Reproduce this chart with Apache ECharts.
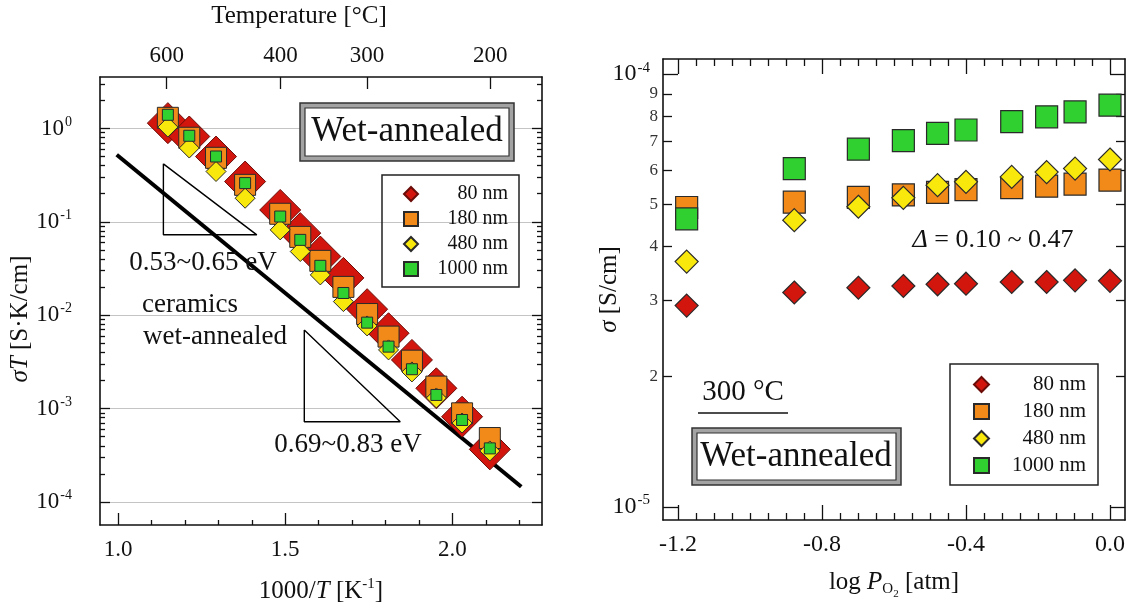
<!DOCTYPE html>
<html><head><meta charset="utf-8">
<script src="https://cdn.jsdelivr.net/npm/echarts@6/dist/echarts.min.js"></script>
<style>html,body{margin:0;padding:0;background:#fff}#c{width:1126px;height:607px}</style>
</head><body><div id="c"></div>
<script>
// ---------------- DATA ----------------
const seriesNames = ['80 nm', '180 nm', '480 nm', '1000 nm'];

// Left panel: sigma*T vs 1000/T
const invT = [1.149, 1.213, 1.293, 1.380, 1.485, 1.545, 1.605, 1.674, 1.745, 1.809, 1.879, 1.952, 2.029, 2.112];
const sigmaT_80   = [1.14, 0.82, 0.50, 0.270, 0.134, 0.0757, 0.0425, 0.0251, 0.0116, 0.00641, 0.00332, 0.00165, 0.000819, 0.000366];
const sigmaT_180  = [1.30, 0.795, 0.485, 0.249, 0.122, 0.069, 0.0382, 0.0201, 0.0103, 0.0059, 0.00326, 0.00172, 0.00089, 0.000484];
const sigmaT_480  = [1.035, 0.617, 0.346, 0.179, 0.082, 0.0481, 0.0270, 0.0140, 0.00768, 0.00425, 0.00247, 0.00130, 0.000701, 0.000352];
const sigmaT_1000 = [1.40, 0.835, 0.501, 0.260, 0.114, 0.0641, 0.0338, 0.0173, 0.00833, 0.00461, 0.00264, 0.00140, 0.000755, 0.000375];

const ceramicsInvT = [0.996, 2.206];
const ceramicsSigmaT = [0.523, 1.455e-4];
const tri1InvT = [1.1356, 1.1356, 1.415, 1.1356];
const tri1SigmaT = [0.418, 0.0726, 0.0726, 0.418];
const tri2InvT = [1.557, 1.557, 1.844, 1.557];
const tri2SigmaT = [0.00696, 0.000724, 0.000724, 0.00696];

const invTTickLabels = [1.0, 1.5, 2.0];
const invTMinorTicks = [1.1, 1.2, 1.3, 1.4, 1.6, 1.7, 1.8, 1.9, 2.1, 2.2];
const tempTickLabelsC = [600, 400, 300, 200];
const sigmaTDecades = [-4, -3, -2, -1, 0];

// Right panel: sigma vs log PO2 at 300 C
const logPO2 = [-1.176, -0.877, -0.699, -0.574, -0.479, -0.400, -0.273, -0.176, -0.097, 0.0];
const sigma_80   = [2.92e-5, 3.13e-5, 3.21e-5, 3.24e-5, 3.27e-5, 3.28e-5, 3.31e-5, 3.31e-5, 3.34e-5, 3.33e-5];
const sigma_180  = [4.92e-5, 5.06e-5, 5.19e-5, 5.26e-5, 5.33e-5, 5.41e-5, 5.47e-5, 5.51e-5, 5.57e-5, 5.69e-5];
const sigma_480  = [3.69e-5, 4.60e-5, 4.94e-5, 5.18e-5, 5.54e-5, 5.64e-5, 5.79e-5, 5.94e-5, 6.05e-5, 6.35e-5];
const sigma_1000 = [4.63e-5, 6.05e-5, 6.71e-5, 7.02e-5, 7.30e-5, 7.43e-5, 7.77e-5, 7.97e-5, 8.18e-5, 8.48e-5];

const logPTickLabels = [-1.2, -0.8, -0.4, 0.0];
const sigmaDecades = [-5, -4];
const sigmaMinorLabels = [2, 3, 4, 5, 6, 7, 8, 9];

// ---------------- STYLE ----------------
const FONT = 'Liberation Serif';
const INK = '#111';
const COL = { '80 nm': '#d2160e', '180 nm': '#f28a1a', '480 nm': '#f9e80c', '1000 nm': '#2fd02f' };
const SYM = { '80 nm': 'diamond', '180 nm': 'rect', '480 nm': 'diamond', '1000 nm': 'rect' };
const L_SIZE = { '80 nm': 41, '180 nm': 21, '480 nm': 20, '1000 nm': 11 };
const R_SIZE = { '80 nm': 23, '180 nm': 22, '480 nm': 23, '1000 nm': 22 };

const L_X = [0.946, 2.268];
const L_YE = [-4.2465, 0.551];
const R_X = [-1.2417, 0.0417];
const R_YE = [-5.030, -3.965];

const zip = (a, b) => a.map((v, i) => [v, b[i]]);

function blank(extra) {
  return Object.assign({
    type: 'value', silent: true,
    axisLine: { show: false, onZero: false },
    axisTick: { show: false }, axisLabel: { show: false },
    splitLine: { show: false }, minorTick: { show: false }, minorSplitLine: { show: false }
  }, extra);
}
function ticks(vals, len) {
  return { show: true, inside: true, length: len, customValues: vals, lineStyle: { color: INK, width: 1.3 } };
}
const frame = { show: true, onZero: false, lineStyle: { color: INK, width: 1.6 } };
const supRich = (size, sup) => ({
  b: { fontSize: size, fontFamily: FONT, color: INK },
  s: { fontSize: sup, fontFamily: FONT, color: INK, padding: [0, 0, Math.round(size * 0.55), 1] }
});

const lMinorY = [];
sigmaTDecades.forEach(n => { for (let k = 2; k <= 9; k++) { const e = n + Math.log10(k); if (e <= L_YE[1]) lMinorY.push(e); } });
const rMinorY = sigmaMinorLabels.map(k => -5 + Math.log10(k));
const rMinorX = [];
for (let i = 0; i <= 24; i++) { const v = +(-1.2 + i * 0.05).toFixed(2); if (!logPTickLabels.some(t => Math.abs(t - v) < 1e-9)) rMinorX.push(v); }
const tempPos = tempTickLabelsC.map(c => 1000 / (c + 273.15));

const xAxis = [
  // 0 left bottom
  blank({ gridIndex: 0, position: 'bottom', min: L_X[0], max: L_X[1], axisLine: frame,
    axisTick: ticks(invTTickLabels, 12),
    axisLabel: { show: true, customValues: invTTickLabels, margin: 13, fontSize: 23, fontFamily: FONT, color: INK, formatter: v => v.toFixed(1) },
    name: '1000/{i|T} [K{s|-1}]', nameLocation: 'middle', nameGap: 52,
    nameTextStyle: { fontSize: 25, fontFamily: FONT, color: INK, rich: {
      i: { fontSize: 25, fontFamily: FONT, fontStyle: 'italic', color: INK },
      s: { fontSize: 15, fontFamily: FONT, color: INK, padding: [0, 0, 14, 0] } } } }),
  // 1 left bottom minor
  blank({ gridIndex: 0, position: 'bottom', min: L_X[0], max: L_X[1], axisTick: ticks(invTMinorTicks, 5) }),
  // 2 left top temperature
  blank({ gridIndex: 0, position: 'top', min: L_X[0], max: L_X[1], axisLine: frame,
    axisTick: ticks(tempPos, 12),
    axisLabel: { show: true, customValues: tempPos, margin: 10, fontSize: 23, fontFamily: FONT, color: INK,
      formatter: v => String(Math.round(1000 / v - 273.15)) },
    name: 'Temperature [°C]', nameLocation: 'middle', nameGap: 48,
    nameTextStyle: { fontSize: 25, fontFamily: FONT, color: INK, padding: [0, 44, 0, 0] } }),
  // 3 right bottom
  blank({ gridIndex: 1, position: 'bottom', min: R_X[0], max: R_X[1], axisLine: frame,
    axisTick: ticks(logPTickLabels, 15),
    axisLabel: { show: true, customValues: logPTickLabels, margin: 13, fontSize: 24, fontFamily: FONT, color: INK, formatter: v => v.toFixed(1) },
    name: 'log {i|P}{o|O}{t|2} [atm]', nameLocation: 'middle', nameGap: 45,
    nameTextStyle: { fontSize: 25, fontFamily: FONT, color: INK, rich: {
      i: { fontSize: 25, fontFamily: FONT, fontStyle: 'italic', color: INK },
      o: { fontSize: 15, fontFamily: FONT, color: INK, padding: [14, 0, 0, 0] },
      t: { fontSize: 11, fontFamily: FONT, color: INK, padding: [24, 0, 0, 0] } } } }),
  // 4 right bottom minor
  blank({ gridIndex: 1, position: 'bottom', min: R_X[0], max: R_X[1], axisTick: ticks(rMinorX, 7) }),
  // 5 right top major
  blank({ gridIndex: 1, position: 'top', min: R_X[0], max: R_X[1], axisLine: frame, axisTick: ticks(logPTickLabels, 15) }),
  // 6 right top minor
  blank({ gridIndex: 1, position: 'top', min: R_X[0], max: R_X[1], axisTick: ticks(rMinorX, 7) })
];

const yAxis = [
  // 0 left data log axis
  { type: 'log', logBase: 10, gridIndex: 0, position: 'left', min: Math.pow(10, L_YE[0]), max: Math.pow(10, L_YE[1]),
    axisLine: frame, axisTick: { show: false }, axisLabel: { show: false }, splitLine: { show: false }, minorTick: { show: false },
    name: '{i|σT} [S·K/cm]', nameLocation: 'middle', nameGap: 67, nameRotate: 90,
    nameTextStyle: { fontSize: 25, fontFamily: FONT, color: INK, padding: [0, 36, 0, 0],
      rich: { i: { fontSize: 25, fontFamily: FONT, fontStyle: 'italic', color: INK } } } },
  // 1 left major ticks/labels/grid
  blank({ gridIndex: 0, position: 'left', min: L_YE[0], max: L_YE[1], axisTick: ticks(sigmaTDecades, 10),
    axisLabel: { show: true, customValues: sigmaTDecades, margin: 28, formatter: v => '{b|10}{s|' + Math.round(v) + '}', rich: supRich(23, 14) },
    splitLine: { show: true, lineStyle: { color: '#c4c4c4', width: 1 } } }),
  // 2 left minor
  blank({ gridIndex: 0, position: 'left', min: L_YE[0], max: L_YE[1], axisTick: ticks(lMinorY, 5) }),
  // 3 left panel right side major
  blank({ gridIndex: 0, position: 'right', min: L_YE[0], max: L_YE[1], axisLine: frame, axisTick: ticks(sigmaTDecades, 10) }),
  // 4 left panel right side minor
  blank({ gridIndex: 0, position: 'right', min: L_YE[0], max: L_YE[1], axisTick: ticks(lMinorY, 5) }),
  // 5 right data log axis
  { type: 'log', logBase: 10, gridIndex: 1, position: 'left', min: Math.pow(10, R_YE[0]), max: Math.pow(10, R_YE[1]),
    axisLine: frame, axisTick: { show: false }, axisLabel: { show: false }, splitLine: { show: false }, minorTick: { show: false },
    name: '{i|σ} [S/cm]', nameLocation: 'middle', nameGap: 41, nameRotate: 90,
    nameTextStyle: { fontSize: 25, fontFamily: FONT, color: INK, rich: { i: { fontSize: 25, fontFamily: FONT, fontStyle: 'italic', color: INK } } } },
  // 6 right major
  blank({ gridIndex: 1, position: 'left', min: R_YE[0], max: R_YE[1], axisTick: ticks(sigmaDecades, 15),
    axisLabel: { show: true, customValues: sigmaDecades, margin: 13, formatter: v => '{b|10}{s|' + Math.round(v) + '}', rich: supRich(24, 15) } }),
  // 7 right minor + labels
  blank({ gridIndex: 1, position: 'left', min: R_YE[0], max: R_YE[1], axisTick: ticks(rMinorY, 9),
    axisLabel: { show: true, customValues: rMinorY, margin: 5, fontSize: 17, fontFamily: FONT, color: '#333',
      formatter: v => String(Math.round(Math.pow(10, v + 5))) } }),
  // 8 right panel right side major
  blank({ gridIndex: 1, position: 'right', min: R_YE[0], max: R_YE[1], axisLine: frame, axisTick: ticks(sigmaDecades, 15) }),
  // 9 right panel right side minor
  blank({ gridIndex: 1, position: 'right', min: R_YE[0], max: R_YE[1], axisTick: ticks(rMinorY, 9) })
];

function scatter(name, xs, ys, xi, yi, sizes, bw) {
  return { type: 'scatter', name, xAxisIndex: xi, yAxisIndex: yi, data: zip(xs, ys),
    symbol: SYM[name], symbolSize: sizes[name], silent: true,
    itemStyle: { color: COL[name], borderColor: name === '80 nm' && xi === 0 ? '#6a0c08' : '#2a2a2a', borderWidth: bw, opacity: 1 } };
}
function guide(xs, ys, w) {
  return { type: 'line', xAxisIndex: 0, yAxisIndex: 0, data: zip(xs, ys), symbol: 'none', silent: true,
    lineStyle: { color: '#000', width: w }, z: 1 };
}

const series = [
  guide(ceramicsInvT, ceramicsSigmaT, 4),
  guide(tri1InvT, tri1SigmaT, 1.4),
  guide(tri2InvT, tri2SigmaT, 1.4),
  scatter('80 nm', invT, sigmaT_80, 0, 0, L_SIZE, 1),
  scatter('180 nm', invT, sigmaT_180, 0, 0, L_SIZE, 1),
  scatter('480 nm', invT, sigmaT_480, 0, 0, L_SIZE, 1),
  scatter('1000 nm', invT, sigmaT_1000, 0, 0, L_SIZE, 1),
  scatter('80 nm', logPO2, sigma_80, 3, 5, R_SIZE, 1.2),
  scatter('180 nm', logPO2, sigma_180, 3, 5, R_SIZE, 1.2),
  scatter('480 nm', logPO2, sigma_480, 3, 5, R_SIZE, 1.2),
  scatter('1000 nm', logPO2, sigma_1000, 3, 5, R_SIZE, 1.2)
];

function legend(left, top, pad, icon, gap, w, fs) {
  return { left, top, orient: 'vertical', data: seriesNames, selectedMode: false, padding: pad,
    itemWidth: icon, itemHeight: icon, itemGap: gap, borderColor: '#222', borderWidth: 1.5,
    formatter: n => '{t|' + n + '}',
    textStyle: { rich: { t: { width: w, align: 'right', fontSize: fs, lineHeight: fs, fontFamily: FONT, color: INK } } } };
}

function txt(x, y, text, size, align, rich) {
  return { type: 'text', x, y, z: 20, silent: true,
    style: { text, fontSize: size, fontFamily: FONT, fill: INK, align: align || 'center', verticalAlign: 'middle', rich } };
}
function box(x, y, w, h, label, cx, cy) {
  return [
    { type: 'rect', z: 18, silent: true, shape: { x, y, width: w, height: h }, style: { fill: '#a3a3a3', stroke: '#333', lineWidth: 1.5 } },
    { type: 'rect', z: 19, silent: true, shape: { x: x + 5, y: y + 5, width: w - 10, height: h - 10 }, style: { fill: '#fff', stroke: '#333', lineWidth: 1.2 } },
    txt(cx, cy, label, 35)
  ];
}

const graphic = [].concat(
  box(300, 103, 214, 58, 'Wet-annealed', 407, 132),
  box(692, 428, 209, 57, 'Wet-annealed', 796, 457),
  [
    txt(203, 263, '0.53~0.65 eV', 27),
    txt(142, 305, 'ceramics', 27, 'left'),
    txt(143, 337, 'wet-annealed', 27, 'left'),
    txt(348, 445, '0.69~0.83 eV', 27),
    txt(993, 240, '{i|Δ} = 0.10 ~ 0.47', 26, 'center', { i: { fontStyle: 'italic', fontSize: 26, fontFamily: FONT, fill: INK } }),
    txt(743, 392, '300 °C', 29),
    { type: 'line', z: 20, silent: true, shape: { x1: 698, y1: 413, x2: 788, y2: 413 }, style: { stroke: INK, lineWidth: 1.5 } }
  ]
);

const chart = echarts.init(document.getElementById('c'), null, { renderer: 'canvas' });
chart.setOption({
  animation: false,
  backgroundColor: '#fff',
  textStyle: { fontFamily: FONT },
  grid: [
    { left: 100, top: 77, width: 442, height: 448, containLabel: false, outerBoundsMode: 'none' },
    { left: 663, top: 59, width: 462, height: 461, containLabel: false, outerBoundsMode: 'none' }
  ],
  xAxis, yAxis, series,
  legend: [
    legend(382, 175, [9, 11, 8, 21], 14, 5, 85, 20),
    legend(950, 364, [10, 12, 9, 23], 15, 6, 92, 21)
  ],
  graphic
});
</script></body></html>
